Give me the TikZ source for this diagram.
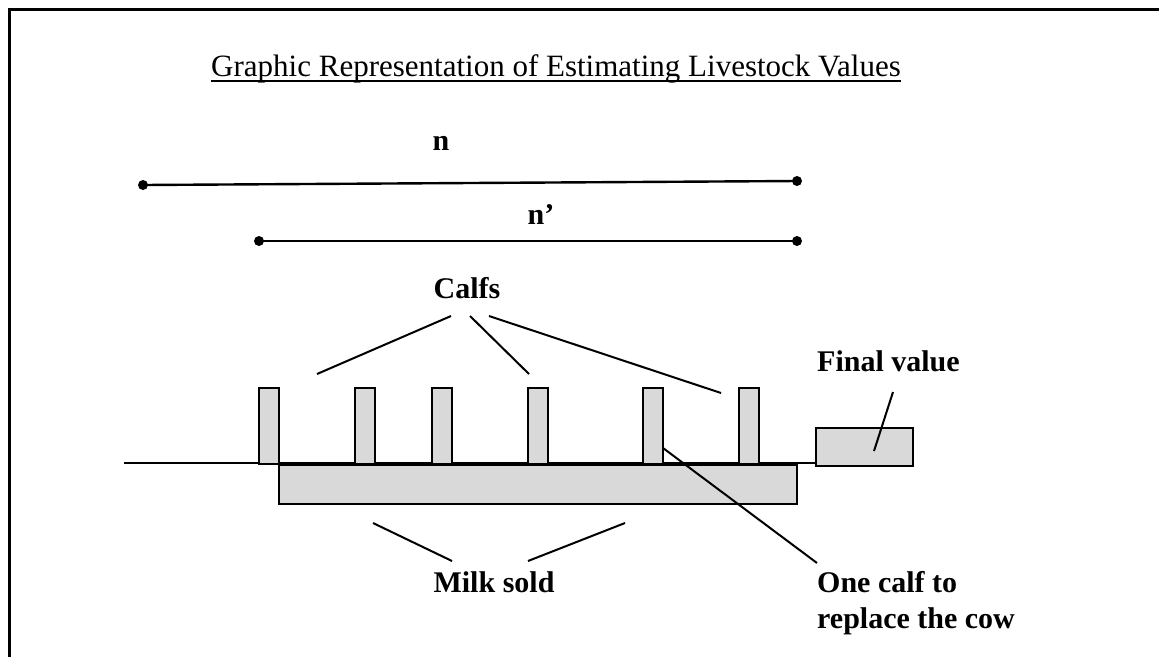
\documentclass[tikz,border=0pt]{standalone}
\usepackage{fontspec}
\setmainfont{Liberation Serif}
% text with a 2.3pt rule set just below its baseline
\newcommand{\ruledtext}[1]{\setbox0=\hbox{#1}\rlap{\rule[-6.2pt]{\wd0}{2.3pt}}\box0}
\begin{document}
\begin{tikzpicture}[x=1pt,y=-1pt,
  frameline/.style={line width=3pt},
  spanline/.style={line width=2.4pt},
  dotend/.style={circle,fill=black,inner sep=0pt,minimum size=10pt},
  pointer/.style={line width=2pt},
  block/.style={draw=black,fill=black!15,line width=2pt},
  lbl/.style={inner sep=0pt,font=\fontsize{30}{36}\selectfont\bfseries},
  titletext/.style={inner sep=0pt,font=\fontsize{31}{36}\selectfont}]
\useasboundingbox (0,0) rectangle (1159,657);

% page frame (top and left edges)
\draw[frameline] (9,657) -- (9,9) -- (1159,9);

% title
\node[titletext,anchor=base east] (title) at (901,76) {\ruledtext{Graphic Representation of Estimating Livestock Values}};

% time spans n and n'
\node[dotend] (nA) at (143,185) {};
\node[dotend] (nB) at (797,181) {};
\draw[spanline] (nA.center) -- (nB.center);
\node[lbl,anchor=base] (nlab) at (441,150) {n};

\node[dotend] (mA) at (259,241) {};
\node[dotend] (mB) at (797,241) {};
\draw[spanline] (mA.center) -- (mB.center);
\node[lbl,anchor=base] (mlab) at (541,224) {n’};

% time axis
\coordinate (axL) at (124,463);
\coordinate (axR) at (816,463);
\draw[pointer] (axL) -- (axR);

% milk sold bar
\path[block] (279,465) rectangle (797,504);

% calf bars
\foreach \x in {259,355,432,528,643,739}{
  \path[block] (\x,388) rectangle (\x+20,464);
}

% final value box
\path[block] (816,428) rectangle (913,466);

% labels
\node[lbl,anchor=base] (calfs) at (467,298) {Calfs};
\node[lbl,anchor=base west] (finlab) at (817,371) {Final value};
\node[lbl,anchor=base] (milklab) at (494,592) {Milk sold};
\node[lbl,anchor=base west,align=left] (onecalf) at (817,628) {One calf to\\replace the cow};

% pointer lines
\coordinate (c1) at (317,374);
\coordinate (c2) at (529,374);
\coordinate (c3) at (721,393);
\coordinate (cs1) at (451,316);
\coordinate (cs2) at (470,316);
\coordinate (cs3) at (489,316);
\draw[pointer] (cs1) -- (c1);
\draw[pointer] (cs2) -- (c2);
\draw[pointer] (cs3) -- (c3);

\coordinate (fv1) at (893,392);
\coordinate (fv2) at (874,451);
\draw[pointer] (fv1) -- (fv2);

\coordinate (ms1) at (373,523);
\coordinate (ms2) at (452,561);
\coordinate (ms3) at (625,523);
\coordinate (ms4) at (528,561);
\draw[pointer] (ms1) -- (ms2);
\draw[pointer] (ms3) -- (ms4);

\coordinate (oc1) at (663,448);
\coordinate (oc2) at (817,563);
\draw[pointer] (oc1) -- (oc2);
\end{tikzpicture}
\end{document}
